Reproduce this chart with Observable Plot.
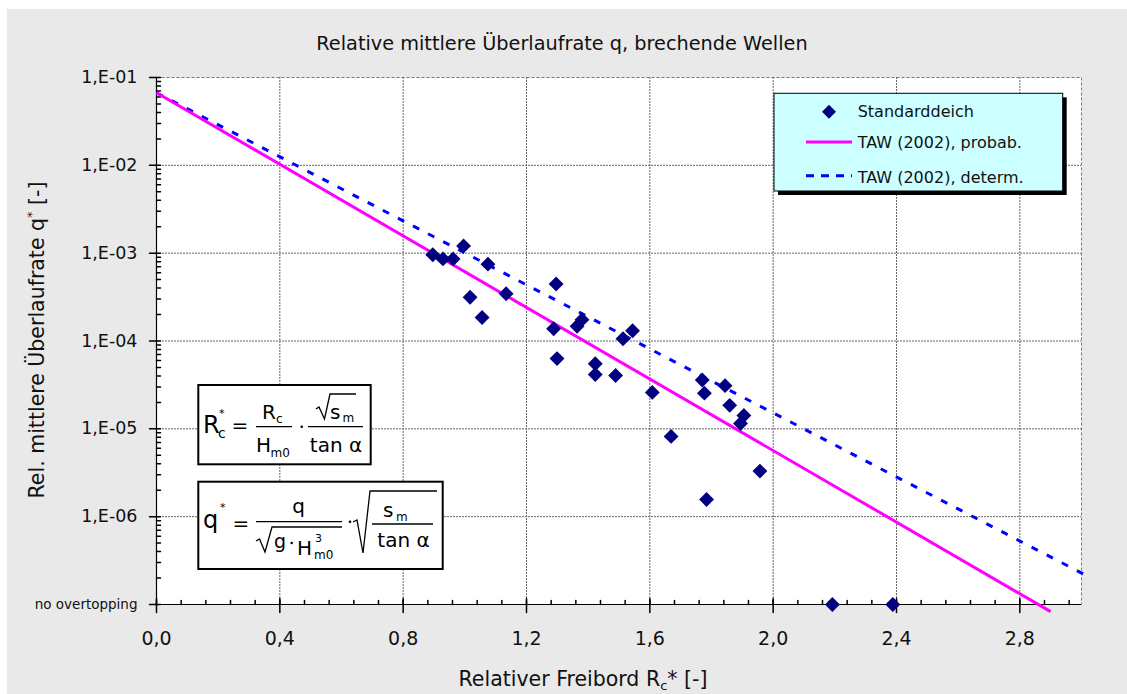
<!DOCTYPE html>
<html><head><meta charset="utf-8">
<script src="https://cdn.jsdelivr.net/npm/d3@7"></script>
<script src="https://cdn.jsdelivr.net/npm/@observablehq/plot@0.6"></script>
<style>body{margin:0;background:#fff} svg{display:block}</style>
</head><body><div id="chart"></div>
<script>
// ---- data ----
const rcStar = [0.896, 0.929, 0.962, 0.996, 1.075, 1.017, 1.056, 1.134, 1.296, 1.288, 1.299, 1.364, 1.380, 1.513, 1.544, 1.423, 1.423, 1.489, 1.608, 1.770, 1.777, 1.844, 1.859, 1.905, 1.894, 1.669, 1.957, 1.784, 2.192, 2.388];
const qStar = [9.6e-4, 8.6e-4, 8.6e-4, 1.21e-3, 7.5e-4, 3.15e-4, 1.85e-4, 3.45e-4, 4.45e-4, 1.38e-4, 6.3e-5, 1.47e-4, 1.75e-4, 1.06e-4, 1.31e-4, 5.5e-5, 4.15e-5, 4.05e-5, 2.6e-5, 3.6e-5, 2.55e-5, 3.1e-5, 1.85e-5, 1.42e-5, 1.15e-5, 8.2e-6, 3.3e-6, 1.57e-6, 1e-7, 1e-7];
const probabX = [0, 2.9];
const probabQ = [0.067, 8.3e-8];
const determX = [0, 3.02];
const determQ = [0.067, 2.1e-7];
const xTicks = [0, 0.4, 0.8, 1.2, 1.6, 2.0, 2.4, 2.8];
const xTickLabels = ["0,0", "0,4", "0,8", "1,2", "1,6", "2,0", "2,4", "2,8"];
const xMinor = d3.range(0, 38).map(i => +(i * 0.08).toFixed(2)).filter(v => v <= 3.0);
const yTicks = [1e-1, 1e-2, 1e-3, 1e-4, 1e-5, 1e-6, 1e-7];
const yTickLabels = ["1,E-01", "1,E-02", "1,E-03", "1,E-04", "1,E-05", "1,E-06", "no overtopping"];
const yMinor = d3.range(-7, -1).flatMap(e => d3.range(2, 10).map(m => m * Math.pow(10, e)));
const legendLabels = ["Standarddeich", "TAW (2002), probab.", "TAW (2002), determ."];
const chartTitle = "Relative mittlere Überlaufrate q, brechende Wellen";

const points = rcStar.map((x, i) => ({x, q: qStar[i]}));
const probab = probabX.map((x, i) => ({x, q: probabQ[i]}));
const determ = determX.map((x, i) => ({x, q: determQ[i]}));

const tickShape = {draw(ctx, l) { ctx.moveTo(0, 0); ctx.lineTo(0, -l); }};
const FONT = "DejaVu Sans";
const gridStyle = {stroke: "#666", strokeOpacity: 1, strokeWidth: 1, strokeDasharray: "2,1"};

const plot = Plot.plot({
  width: 1127, height: 694,
  marginLeft: 156, marginRight: 46, marginTop: 77, marginBottom: 90,
  style: {fontFamily: FONT, background: "transparent", overflow: "visible"},
  x: {domain: [0, 3], axis: null},
  y: {type: "log", domain: [1e-7, 1e-1], axis: null},
  marks: [
    Plot.frame({fill: "white", stroke: "#777", strokeDasharray: "3,2"}),
    Plot.gridX(xTicks.slice(1), gridStyle),
    Plot.gridY(yTicks.slice(1, 6), gridStyle),
    Plot.ruleX([0], {stroke: "black", strokeWidth: 1.2}),
    Plot.ruleY([1e-7], {stroke: "black", strokeWidth: 1.2}),
    // y ticks
    Plot.vector(yMinor.concat(yTicks), {x: 0, y: d => d, length: 4, rotate: 90, shape: tickShape, anchor: "start", stroke: "black"}),
    Plot.vector(yTicks, {x: 0, y: d => d, length: 7, rotate: 270, shape: tickShape, anchor: "start", stroke: "black"}),
    // x ticks
    Plot.vector(xMinor, {x: d => d, y: 1e-7, length: 4, rotate: 0, shape: tickShape, anchor: "start", stroke: "black"}),
    Plot.vector(xTicks, {x: d => d, y: 1e-7, length: 6, rotate: 0, shape: tickShape, anchor: "start", stroke: "black"}),
    Plot.vector(xTicks, {x: d => d, y: 1e-7, length: 8, rotate: 180, shape: tickShape, anchor: "start", stroke: "black"}),
    // tick labels
    Plot.text(yTicks.slice(0, 6), {x: 0, y: d => d, text: (d, i) => yTickLabels[i], textAnchor: "end", dx: -19, fontSize: 17.5, fill: "#111"}),
    Plot.text([1e-7], {x: 0, y: d => d, text: () => yTickLabels[6], textAnchor: "end", dx: -19, fontSize: 13.5, fill: "#111"}),
    Plot.text(xTicks, {x: d => d, y: 1e-7, text: (d, i) => xTickLabels[i], dy: 34, fontSize: 19, fill: "#111"}),
    // lines
    Plot.line(determ, {x: "x", y: "q", stroke: "#0000ff", strokeWidth: 3, strokeDasharray: "7,10", strokeLinecap: "butt"}),
    Plot.line(probab, {x: "x", y: "q", stroke: "#ff00ff", strokeWidth: 3, strokeLinecap: "butt"}),
    // data
    Plot.dot(points, {x: "x", y: "q", symbol: "diamond2", r: 6.7, fill: "#000080", stroke: null})
  ]
});

const svg = d3.select(plot);
svg.insert("rect", ":first-child").attr("x", 7).attr("y", 9).attr("width", 1120).attr("height", 685).attr("fill", "#e9e9e9");

// titles
svg.append("text").attr("x", 562).attr("y", 50).attr("text-anchor", "middle")
  .attr("font-size", 19.3).attr("fill", "#111").text(chartTitle);
const xt = svg.append("text").attr("x", 583).attr("y", 686).attr("text-anchor", "middle").attr("font-size", 20.5).attr("fill", "#111");
xt.append("tspan").text("Relativer Freibord R");
xt.append("tspan").attr("font-size", 13).attr("dy", 4).text("c");
xt.append("tspan").attr("dy", -4).text("* [-]");
const yt = svg.append("text").attr("transform", "translate(44,340) rotate(-90)").attr("text-anchor", "middle").attr("font-size", 20.5).attr("fill", "#111");
yt.append("tspan").text("Rel. mittlere Überlaufrate q");
yt.append("tspan").attr("font-size", 13).attr("dy", -8).text("*");
yt.append("tspan").attr("dy", 8).text(" [-]");

// legend
const lg = svg.append("g").attr("font-size", 16).attr("fill", "#111").attr("text-anchor", "start");
lg.append("rect").attr("x", 778).attr("y", 97.3).attr("width", 288.7).attr("height", 97.7).attr("fill", "black");
lg.append("rect").attr("x", 774).attr("y", 93.3).attr("width", 288.7).attr("height", 97.7).attr("fill", "#ccffff").attr("stroke", "black");
lg.append("path").attr("d", d3.symbol(d3.symbolDiamond2, 125)()).attr("transform", "translate(829,111.7)").attr("fill", "#000080");
lg.append("line").attr("x1", 806).attr("x2", 852).attr("y1", 142).attr("y2", 142).attr("stroke", "#ff00ff").attr("stroke-width", 3);
lg.append("line").attr("x1", 806).attr("x2", 852).attr("y1", 175.7).attr("y2", 175.7).attr("stroke", "#0000ff").attr("stroke-width", 3).attr("stroke-dasharray", "8,7");
[117, 148.3, 182.5].forEach((y, i) => lg.append("text").attr("x", 857.7).attr("y", y).attr("text-anchor", "start").text(legendLabels[i]));

// formula boxes
const f = svg.append("g").attr("fill", "black");
function t(x, y, s, size, anchor) {
  f.append("text").attr("x", x).attr("y", y).attr("font-size", size).attr("text-anchor", anchor || "start").text(s);
}
function ln(x1, y1, x2, y2, w) {
  f.append("line").attr("x1", x1).attr("y1", y1).attr("x2", x2).attr("y2", y2).attr("stroke", "black").attr("stroke-width", w || 1.3);
}
function path(d, w) {
  f.append("path").attr("d", d).attr("fill", "none").attr("stroke", "black").attr("stroke-width", w || 1.3);
}
function dot(x, y) { f.append("circle").attr("cx", x).attr("cy", y).attr("r", 1.3); }
f.append("rect").attr("x", 198.3).attr("y", 385).attr("width", 172.4).attr("height", 79.3).attr("fill", "white").attr("stroke", "black").attr("stroke-width", 2);
f.append("rect").attr("x", 198.3).attr("y", 481.7).attr("width", 244.4).attr("height", 87.3).attr("fill", "white").attr("stroke", "black").attr("stroke-width", 2);
// box 1: Rc* = Rc/Hm0 · sqrt(sm)/tan a
t(203, 433, "R", 24); t(219, 417, "*", 11); t(218, 438, "c", 14);
t(240, 432, "=", 20, "middle");
t(262, 418.5, "R", 20); t(276, 423, "c", 12);
ln(256, 426.7, 292, 426.7);
t(256, 452, "H", 20); t(270.5, 457, "m0", 12);
dot(301.7, 426.7);
ln(308, 426.7, 363, 426.7);
path("M316,409 L319,407 L324.5,419 L330,394 L356,394");
t(330, 419, "s", 20); t(342.5, 422, "m", 12);
t(336, 452, "tan α", 20, "middle");
// box 2: q* = q / sqrt(g·Hm0^3) · sqrt(sm / tan a)
t(203, 528, "q", 24); t(220, 511, "*", 11);
t(241, 530, "=", 20, "middle");
t(298.5, 513, "q", 20, "middle");
ln(256, 521.7, 342, 521.7);
path("M256,541 L259.5,539 L265,552 L272,527 L342,527");
t(274, 548, "g", 19); dot(291.7, 543);
t(297, 555, "H", 20); t(315, 542, "3", 11); t(314, 559, "m0", 12);
dot(350, 521.7);
path("M353,522 L357,520 L363,553 L370,491 L437,491");
t(383, 517, "s", 20); t(396, 520.5, "m", 12);
ln(372, 524, 433, 524);
t(403.5, 547, "tan α", 20, "middle");

document.getElementById("chart").appendChild(plot);
</script>
</body></html>
